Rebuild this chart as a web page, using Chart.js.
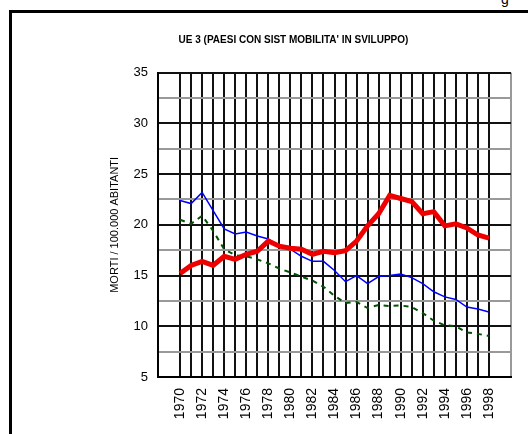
<!DOCTYPE html>
<html>
<head>
<meta charset="utf-8">
<script src="https://cdn.jsdelivr.net/npm/chart.js@4.4.0/dist/chart.umd.min.js"></script>
<style>
  html, body { margin: 0; padding: 0; width: 528px; height: 434px; overflow: hidden; background: #fff; }
  #cornice { position: absolute; left: 9px; top: 10px; width: 600px; height: 500px; border-left: 3px solid #000; border-top: 3px solid #000; }
  #box { position: absolute; left: 12px; top: 13px; width: 563px; height: 421px; }
  #frammento { position: absolute; left: 501px; top: -9px; font: 14px 'Liberation Sans', Arial, sans-serif; color: #000; }
</style>
</head>
<body>
<div id="frammento">g</div>
<div id="cornice"></div>
<div id="box"><canvas id="graficoUE3"></canvas></div>
<script>
const FONT = "'Liberation Sans', Arial, sans-serif";

const anni = [1970, 1971, 1972, 1973, 1974, 1975, 1976, 1977, 1978, 1979,
              1980, 1981, 1982, 1983, 1984, 1985, 1986, 1987, 1988, 1989,
              1990, 1991, 1992, 1993, 1994, 1995, 1996, 1997, 1998];

// linea rossa spessa
const serieRossa = [15.2, 16.0, 16.4, 16.0, 16.9, 16.6, 17.1, 17.4, 18.4, 17.9,
                    17.7, 17.6, 17.1, 17.4, 17.25, 17.45, 18.4, 19.9, 21.1, 22.9,
                    22.6, 22.3, 21.1, 21.3, 19.9, 20.1, 19.7, 19.0, 18.7];

// linea blu sottile
const serieBlu = [22.4, 22.1, 23.2, 21.4, 19.6, 19.1, 19.3, 18.9, 18.6, 17.9,
                  17.6, 16.9, 16.4, 16.4, 15.5, 14.4, 15.0, 14.2, 14.9, 15.0,
                  15.15, 14.8, 14.2, 13.4, 12.9, 12.65, 11.9, 11.7, 11.4];

// linea verde tratteggiata
const serieVerde = [20.5, 20.1, 20.9, 19.4, 17.6, 17.0, 16.9, 16.6, 16.2, 15.7,
                    15.3, 14.9, 14.5, 13.9, 13.0, 12.3, 12.4, 11.8, 12.1, 12.0,
                    12.05, 11.9, 11.3, 10.55, 10.1, 10.0, 9.4, 9.25, 9.05];

const etichetteAnni = ['1970', '1972', '1974', '1976', '1978', '1980', '1982', '1984',
                       '1986', '1988', '1990', '1992', '1994', '1996', '1998'];
const etichetteY = ['5', '10', '15', '20', '25', '30', '35'];

const graficoUE3 = {
  chart: null,

  init: function() {
    this.chart = new Chart(document.getElementById('graficoUE3'), {
      type: 'line',
      data: {
        labels: anni,
        datasets: [
          { data: serieRossa, borderColor: '#ee0000', borderWidth: 5, order: 1 },
          { data: serieBlu, borderColor: '#0000ff', borderWidth: 1.5, order: 2 },
          { data: serieVerde, borderColor: '#005200', borderWidth: 2, borderDash: [5, 5], order: 3 }
        ]
      },
      options: {
        responsive: true,
        maintainAspectRatio: false,
        animation: false,
        layout: { padding: 0 },
        elements: { point: { radius: 0 }, line: { tension: 0, fill: false } },
        plugins: {
          legend: { display: false },
          tooltip: { enabled: false },
          title: {
            display: true,
            text: "UE 3 (PAESI CON SIST MOBILITA' IN SVILUPPO)",
            color: '#000',
            font: { family: FONT, size: 10, weight: 'bold' },
            padding: { top: 21, bottom: 26.7 }
          }
        },
        scales: {
          x: {
            type: 'linear',
            min: 1968,
            max: 2000,
            afterFit: s => { s.height = 57; },
            border: { color: '#000', width: 2 },
            grid: {
              drawTicks: false,
              lineWidth: 2,
              color: c => {
                const v = c.tick.value;
                if (v === 2000) return '#999';
                return (v >= 1970 && v <= 1998) ? '#111' : 'rgba(0,0,0,0)';
              }
            },
            ticks: {
              stepSize: 1,
              autoSkip: false,
              minRotation: 90,
              maxRotation: 90,
              padding: 11,
              color: '#000',
              font: { family: FONT, size: 14 },
              callback: v => etichetteAnni.includes(String(v)) ? String(v) : ''
            }
          },
          y: {
            min: 5,
            max: 35,
            afterFit: s => { s.width = 146; },
            border: { color: '#000', width: 2 },
            grid: {
              drawTicks: false,
              lineWidth: 2,
              color: c => (c.tick.value % 5 === 0) ? '#111' : '#999'
            },
            ticks: {
              stepSize: 2.5,
              padding: 10,
              color: '#000',
              font: { family: FONT, size: 13 },
              callback: v => etichetteY.includes(String(v)) ? String(v) : ''
            },
            title: {
              display: true,
              text: 'MORTI / 100.000 ABITANTI',
              color: '#000',
              font: { family: FONT, size: 11 },
              padding: { top: 96, bottom: 0 }
            }
          },
          // asse vuoto a destra: lascia il margine senza spostare il titolo
          destra: {
            position: 'right',
            afterFit: s => { s.width = 64; },
            grid: { display: false },
            border: { display: false },
            ticks: { display: false }
          }
        }
      }
    });
  }
};

graficoUE3.init();
</script>
</body>
</html>
